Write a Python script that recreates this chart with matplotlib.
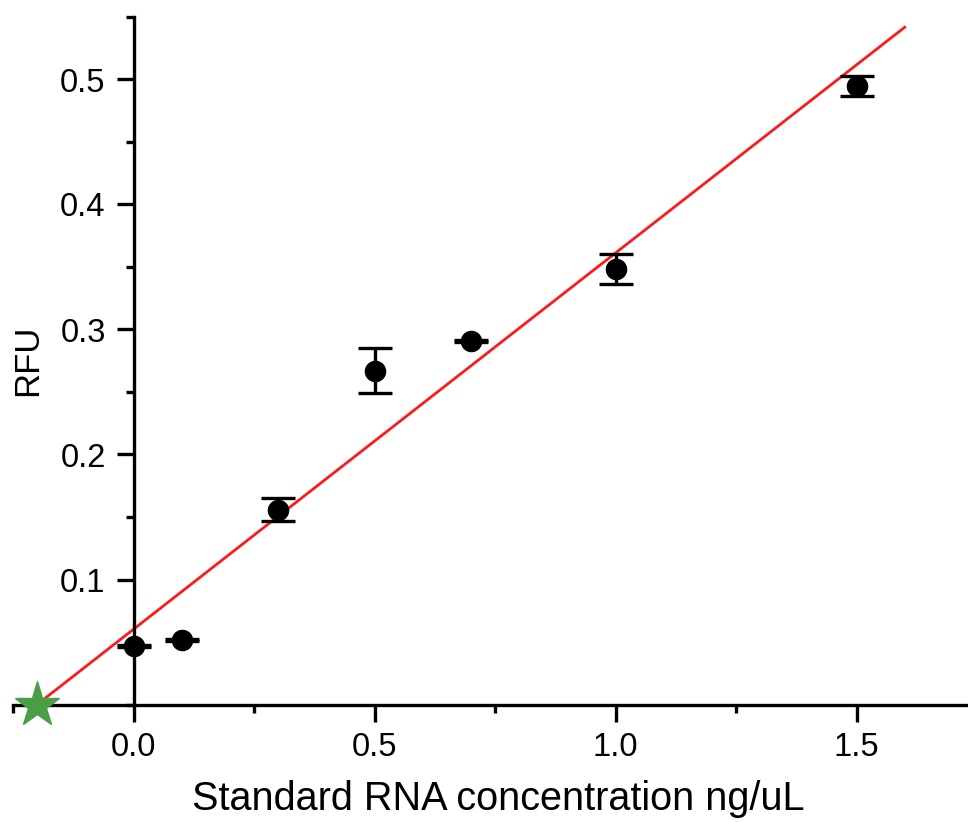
import matplotlib
matplotlib.use("Agg")
import matplotlib.pyplot as plt
import numpy as np
from matplotlib.ticker import MultipleLocator

plt.rcParams['font.family'] = ['Liberation Sans', 'DejaVu Sans']

conc = [0.0, 0.1, 0.3, 0.5, 0.7, 1.0, 1.5]
rfu = [0.047, 0.052, 0.156, 0.267, 0.291, 0.348, 0.495]
rfu_err = [0.0008, 0.0008, 0.009, 0.018, 0.0008, 0.012, 0.008]

fit_slope = 0.301
fit_intercept = 0.0602
fit_x = [-0.2, 1.6]

star_x = [-0.2]
star_y = [0.0]

fig = plt.figure(figsize=(9.68, 8.22), dpi=100)
ax = fig.add_axes([13/968, (822-704.5)/822, (977-13)/968, 687.5/822])

ax.set_xlim(-0.25, 1.75)
ax.set_ylim(0, 0.55)

fx = np.array(fit_x)
ax.plot(fx, fit_slope*fx + fit_intercept, color='#ff1a1a', lw=2.0, zorder=2)

ax.errorbar(conc, rfu, yerr=rfu_err, fmt='o', color='black', ms=14.5,
            elinewidth=2.4, capsize=12, capthick=2.4, zorder=3)

ax.plot(star_x, star_y, marker='*', color='#4a9e45', ms=34, ls='none',
        clip_on=False, zorder=5)

for s in ['top', 'right']:
    ax.spines[s].set_visible(False)
ax.spines['left'].set_position(('data', 0))
ax.spines['left'].set_linewidth(2.4)
ax.spines['bottom'].set_linewidth(2.4)

ax.xaxis.set_minor_locator(MultipleLocator(0.25))
ax.yaxis.set_minor_locator(MultipleLocator(0.05))
ax.set_xticks([0.0, 0.5, 1.0, 1.5])
ax.set_xticklabels(['0.0', '0.5', '1.0', '1.5'])
ax.set_yticks([0.1, 0.2, 0.3, 0.4, 0.5])
ax.set_yticklabels(['0.1', '0.2', '0.3', '0.4', '0.5'])

ax.tick_params(axis='both', which='major', direction='out', length=12, width=2.4,
               labelsize=23.5, pad=8)
ax.tick_params(axis='both', which='minor', direction='out', length=6, width=2.4)

ax.set_xlabel('Standard RNA concentration ng/uL', fontsize=28.5)
ax.xaxis.set_label_coords((498-13)/(977-13), -0.11)
ax.set_ylabel('RFU', fontsize=25)
ax.yaxis.set_label_coords((44-13)/(977-13), 0.5)

fig.savefig('out.png', dpi=100)
